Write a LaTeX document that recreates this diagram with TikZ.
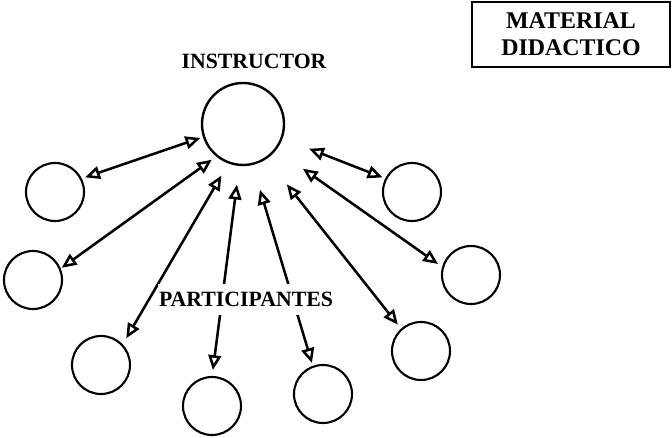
\documentclass[tikz,border=0pt]{standalone}
\usepackage{fontspec}
\setmainfont{Liberation Serif}
\usetikzlibrary{arrows.meta}

\begin{document}
\begin{tikzpicture}[
    person/.style={
      circle,
      draw=black,
      line width=1.5pt,
      minimum size=14.5mm,
      inner sep=0pt,
      outer sep=0pt
    },
    lead/.style={
      person,
      minimum size=20.5mm,
      line width=1.7pt
    },
    heading/.style={
      font=\bfseries\fontsize{15.5}{18}\selectfont,
      inner sep=2pt
    },
    link/.style={
      {Triangle[open,length=3.7mm,width=3.2mm]}-{Triangle[open,length=3.7mm,width=3.2mm]},
      draw=black,
      line width=1.8pt
    }
  ]
    \useasboundingbox (0,0) rectangle (16.8,10.95);

    \node[lead] (ins) at (6.075,7.85) {};
    \node[heading] (instxt) at (6.35,9.41) {INSTRUCTOR};

    \node[person] (p1) at (1.375,6.15) {};
    \node[person] (p2) at (0.825,3.95) {};
    \node[person] (p3) at (2.525,1.825) {};
    \node[person] (p4) at (5.3,0.8) {};
    \node[person] (p5) at (8.075,1.1) {};
    \node[person] (p6) at (10.525,2.175) {};
    \node[person] (p7) at (11.775,4.075) {};
    \node[person] (p8) at (10.3,6.15) {};

    \node[draw=black, line width=1.3pt, minimum width=49.5mm, minimum height=16.25mm,
      align=center, font=\bfseries\fontsize{17}{19.5}\selectfont] (mat) at (14.275,10.09)
      {MATERIAL\\DIDACTICO};

    \draw[link, shorten <=2.8pt, shorten >=3.2pt] (ins.198) -- (p1.27);
    \draw[link, shorten <=4.7pt, shorten >=1.6pt] (ins.231) -- (p2.22);
    \draw[link, shorten <=10.7pt, shorten >=5.7pt] (ins.250) -- (p3.43);
    \draw[link, shorten <=14.2pt, shorten >=5pt] (ins.265) -- (p4.90);
    \draw[link, shorten <=19.2pt, shorten >=2.8pt] (ins.283) -- (p5.110);
    \draw[link, shorten <=24pt, shorten >=4.3pt] (ins.304) -- (p6.132);
    \draw[link, shorten <=24pt, shorten >=4.3pt] (ins.322) -- (p7.165);
    \draw[link, shorten <=21pt, shorten >=2.8pt] (ins.340) -- (p8.153);

    \node[heading, fill=white, inner xsep=0.5pt, inner ysep=6pt] (partxt) at (6.15,3.46) {PARTICIPANTES};
  \end{tikzpicture}
\end{document}
